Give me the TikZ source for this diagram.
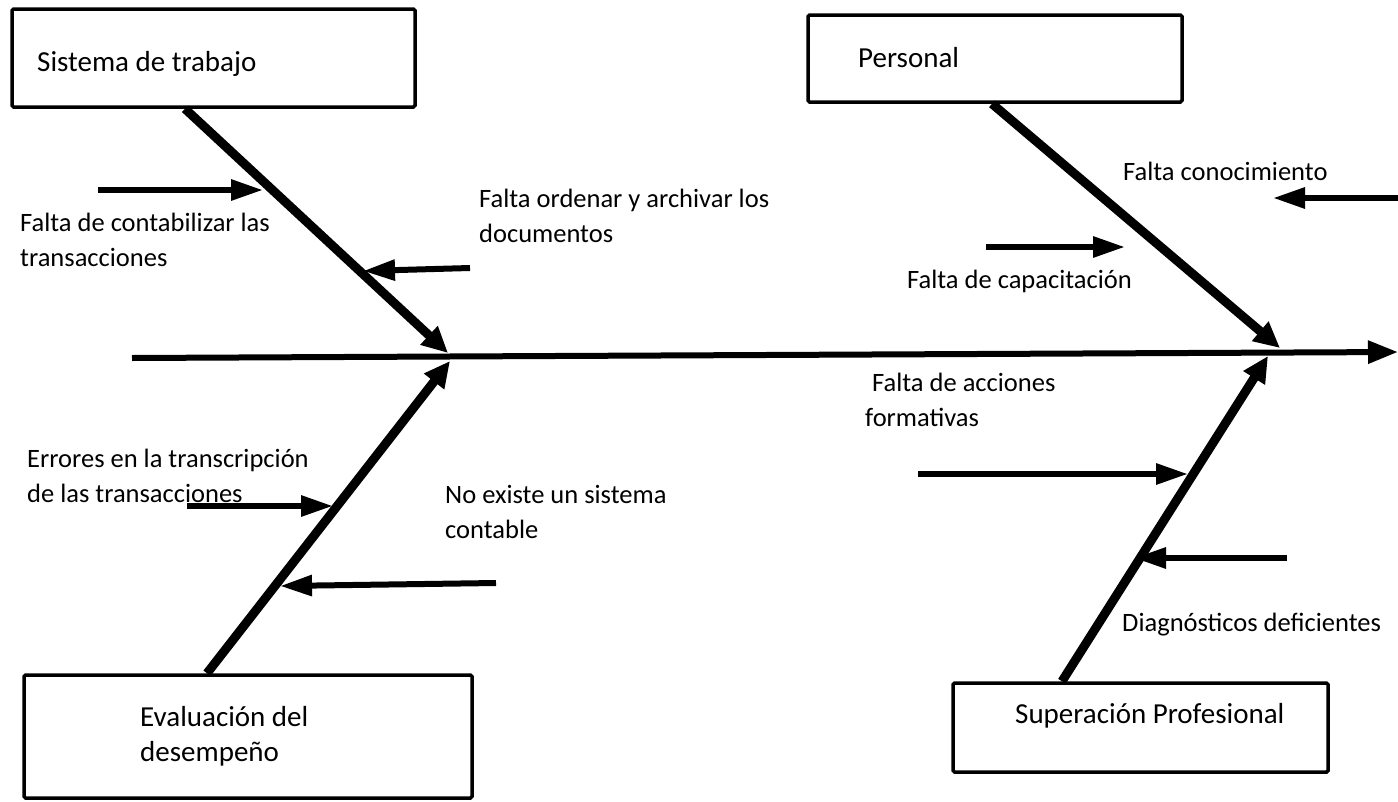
\documentclass[tikz,border=0pt]{standalone}
\usepackage{fontspec}
\setmainfont{Carlito}
\usetikzlibrary{arrows.meta,positioning}

\begin{document}
\begin{tikzpicture}[x=1pt, y=-1pt,
  every node/.style={font=\fontsize{26.5}{35}\selectfont, inner sep=0pt},
  box/.style={draw, line width=3.5pt, rounded corners=1.5pt},
  boxtext/.style={font=\fontsize{29}{35}\selectfont, align=left, anchor=base west},
  cause/.style={align=left, anchor=base west},
  spine/.style={line width=6pt, -{Triangle[length=30pt, width=22pt]}},
  bone/.style={line width=9pt, -{Triangle[length=26pt, width=24pt]}},
  twig/.style={line width=6pt, -{Triangle[length=32pt, width=20pt]}}]
  \useasboundingbox (0,0) rectangle (1398,801);

  % categorias
  \node[box, minimum width=403pt, minimum height=98pt] (sisbox) at (213.5,58) {};
  \node[box, minimum width=374pt, minimum height=87pt] (perbox) at (995,58.5) {};
  \node[box, minimum width=448pt, minimum height=123pt] (evabox) at (248,736.5) {};
  \node[box, minimum width=375pt, minimum height=89pt] (supbox) at (1140.5,727.5) {};
  \node[boxtext] (sis) at (37,71) {Sistema de trabajo};
  \node[boxtext] (per) at (858,67) {Personal};
  \node[boxtext] (eva) at (140,761) {Evaluación del\\desempeño};
  \node[boxtext] (sup) at (1015,723) {Superación Profesional};

  % espina central
  \coordinate (tail) at (132,358);
  \coordinate (head) at (1398,352);
  \coordinate (jsis) at (448,353);
  \coordinate (jeva) at (450,361);
  \coordinate (jper) at (1280,348);
  \coordinate (jsup) at (1268,356);
  \draw[spine] (tail) -- (head);
  \draw[bone] ([xshift=-28.5pt]sisbox.south) -- (jsis);
  \draw[bone] ([xshift=-41pt]evabox.north) -- (jeva);
  \draw[bone] ([xshift=-3pt]perbox.south) -- (jper);
  \draw[bone] ([xshift=-78.5pt]supbox.north) -- (jsup);

  % causas
  \coordinate (a1) at (98,190);   \coordinate (a1t) at (263,190);
  \coordinate (a2) at (470,268);  \coordinate (a2t) at (363,271);
  \coordinate (c1) at (187,506);  \coordinate (c1t) at (333,506);
  \coordinate (c2) at (496,583);  \coordinate (c2t) at (280,586);
  \coordinate (b1) at (986,247);  \coordinate (b1t) at (1125,247);
  \coordinate (b2) at (1398,198); \coordinate (b2t) at (1273,198);
  \coordinate (d1) at (918,474);  \coordinate (d1t) at (1188,474);
  \coordinate (d2) at (1287,558); \coordinate (d2t) at (1134,558);
  \foreach \s in {a1,a2,c1,c2,b1,b2,d1,d2}
    \draw[twig] (\s) -- (\s t);

  \node[cause] (fcont) at (20,266) {Falta de contabilizar las\\transacciones};
  \node[cause] (ford) at (479,242) {Falta ordenar y archivar los\\documentos};
  \node[cause] (err) at (27,502) {Errores en la transcripción\\de las transacciones};
  \node[cause] (nosis) at (445,538) {No existe un sistema\\contable};
  \node[cause] (fcon) at (1123,180) {Falta conocimiento};
  \node[cause] (fcap) at (907,288) {Falta de capacitación};
  \node[cause] (facc) at (865,426) {\hspace*{7pt}Falta de acciones\\formativas};
  \node[cause] (diag) at (1122,631) {Diagnósticos deficientes};
\end{tikzpicture}
\end{document}
